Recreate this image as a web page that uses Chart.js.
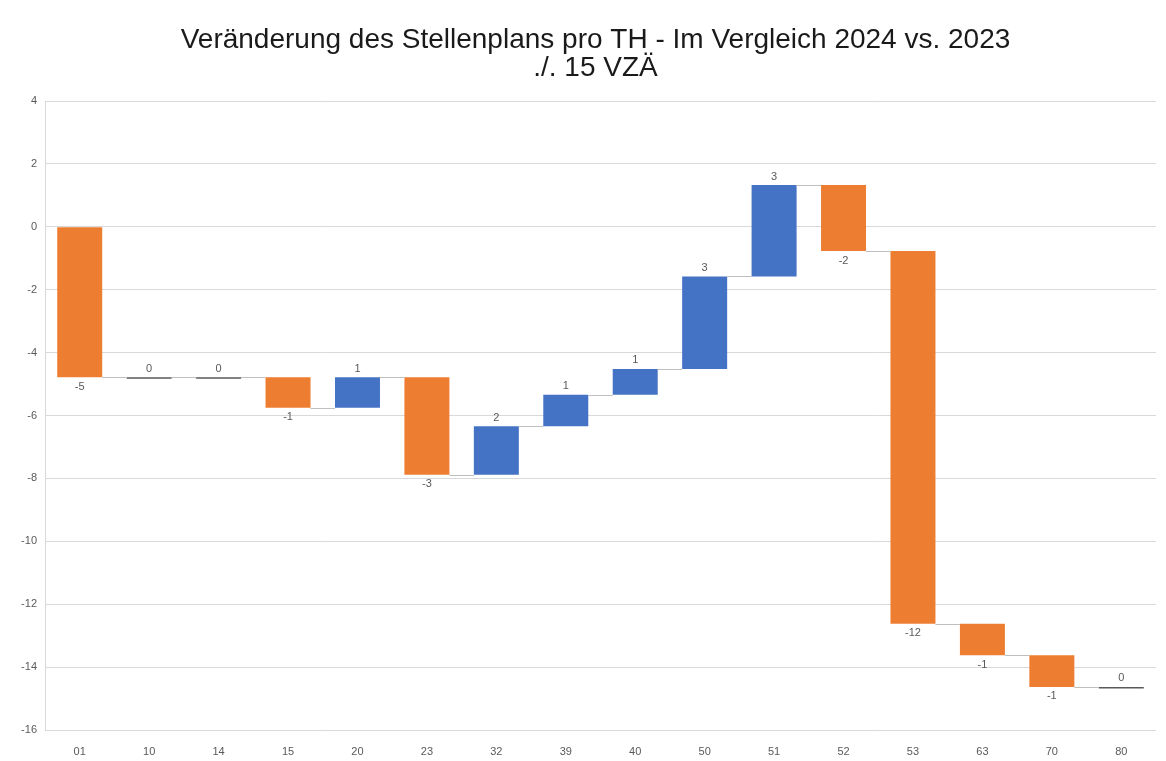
<!DOCTYPE html>
<html>
<head>
<meta charset="utf-8">
<script src="https://cdn.jsdelivr.net/npm/chart.js@4.4.1/dist/chart.umd.min.js"></script>
<style>
    html, body { margin: 0; padding: 0; background: #fff; }
    #wrap { width: 1166px; height: 761px; }
</style>
</head>
<body>
<div id="wrap"><canvas id="waterfall"></canvas></div>
<script>
// Teilhaushalte
var categories = ["01", "10", "14", "15", "20", "23", "32", "39", "40", "50", "51", "52", "53", "63", "70", "80"];
// Veränderung je TH (VZÄ)
var deltas = [-4.78, 0, 0, -0.97, 0.97, -3.10, 1.54, 1.00, 0.82, 2.94, 2.91, -2.10, -11.85, -1.00, -1.01, 0];
var yTicks = [4, 2, 0, -2, -4, -6, -8, -10, -12, -14, -16];

var titleLines = ["Veränderung des Stellenplans pro TH - Im Vergleich 2024 vs. 2023", "./. 15 VZÄ"];

var ORANGE = "#ED7D31";
var BLUE = "#4472C4";
var ZERO = "#595959";

// floating bars [start, end]
var ranges = [];
var running = 0;
deltas.forEach(function(d) {
    ranges.push([running, running + d]);
    running += d;
});

var colors = deltas.map(function(d) {
    if (d === 0) return ZERO;
    return d > 0 ? BLUE : ORANGE;
});

// connector lines + rounded value labels
var waterfallExtras = {
    id: "waterfallExtras",
    afterLayout: function(chart) {
        // centre the title over the plot area like Excel does
        var t = chart.titleBlock;
        if (t) {
            t.left = chart.chartArea.left - 10;
            t.width = t.right - t.left;
        }
    },
    afterDatasetsDraw: function(chart) {
        var ctx = chart.ctx;
        var meta = chart.getDatasetMeta(0);
        var y = chart.scales.y;

        ctx.save();
        ctx.strokeStyle = "#BFBFBF";
        ctx.lineWidth = 1;
        for (var i = 0; i < meta.data.length - 1; i++) {
            var a = meta.data[i], b = meta.data[i + 1];
            var py = Math.round(y.getPixelForValue(ranges[i][1])) + 0.5;
            ctx.beginPath();
            ctx.moveTo(a.x + a.width / 2, py);
            ctx.lineTo(b.x - b.width / 2, py);
            ctx.stroke();
        }

        ctx.fillStyle = "#595959";
        ctx.font = "11px 'Liberation Sans', Arial, sans-serif";
        ctx.textAlign = "center";
        meta.data.forEach(function(bar, i) {
            var d = deltas[i];
            var label = String(Math.round(d));
            if (label === "-0") label = "0";
            var top = y.getPixelForValue(Math.max(ranges[i][0], ranges[i][1]));
            var bottom = y.getPixelForValue(Math.min(ranges[i][0], ranges[i][1]));
            if (d < 0) {
                ctx.textBaseline = "top";
                ctx.fillText(label, bar.x, bottom + 4);
            } else {
                ctx.textBaseline = "bottom";
                ctx.fillText(label, bar.x, top - 3);
            }
        });
        ctx.restore();
    }
};

var ctx = document.getElementById("waterfall").getContext("2d");
new Chart(ctx, {
    type: "bar",
    data: {
        labels: categories,
        datasets: [{
            data: ranges,
            backgroundColor: colors,
            borderWidth: 0,
            minBarLength: 1.5,
            barPercentage: 0.8,
            categoryPercentage: 0.81
        }]
    },
    options: {
        responsive: true,
        maintainAspectRatio: false,
        animation: false,
        layout: { padding: { left: 4, right: 10, top: 0, bottom: 0 } },
        plugins: {
            legend: { display: false },
            tooltip: { enabled: false },
            title: {
                display: true,
                text: titleLines,
                color: "#1a1a1a",
                font: { family: "'Liberation Sans', Arial, sans-serif", size: 28, weight: "normal", lineHeight: 1.0 },
                padding: { top: 26, bottom: 19 }
            }
        },
        scales: {
            x: {
                afterFit: function(axis) { axis.height = 31; },
                grid: { display: false },
                border: { display: false },
                ticks: {
                    color: "#595959",
                    font: { family: "'Liberation Sans', Arial, sans-serif", size: 11 },
                    padding: 7,
                    maxRotation: 0
                }
            },
            y: {
                min: yTicks[yTicks.length - 1],
                max: yTicks[0],
                afterBuildTicks: function(axis) {
                    axis.ticks = yTicks.map(function(v) { return { value: v }; });
                },
                afterFit: function(axis) { axis.width = 41; },
                grid: { color: "#D9D9D9", drawTicks: false },
                border: { display: true, color: "#D9D9D9" },
                ticks: {
                    color: "#595959",
                    font: { family: "'Liberation Sans', Arial, sans-serif", size: 11 },
                    padding: 8
                }
            }
        }
    },
    plugins: [waterfallExtras]
});
</script>
</body>
</html>
